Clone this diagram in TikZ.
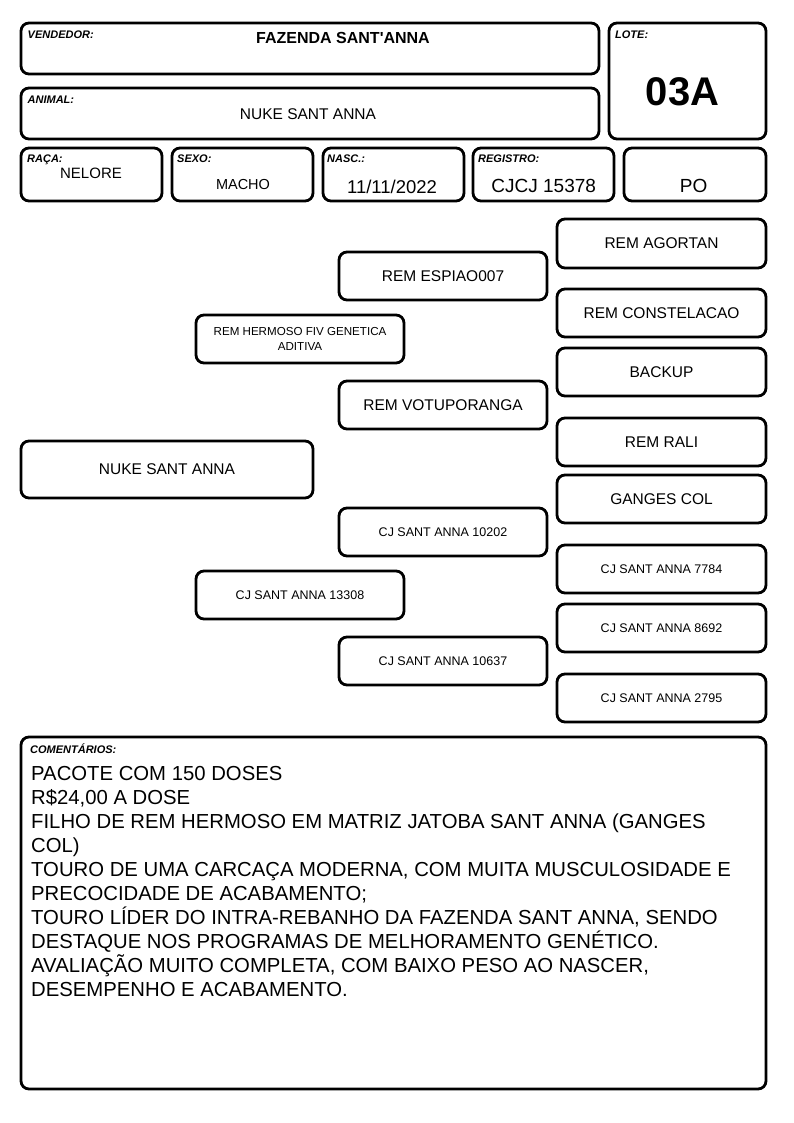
\documentclass[tikz,border=0pt]{standalone}
\usepackage{fontspec}
\setmainfont{Liberation Sans}
\newfontfamily\nomapfont{Liberation Sans}
\begin{document}
\begin{tikzpicture}[x=1pt,y=-1pt,
  box/.style={draw=black, line width=2.8pt, rounded corners=8pt, inner sep=0pt, align=center, fill=white},
  lbl/.style={anchor=base west, inner sep=0pt, font=\fontsize{11}{12}\selectfont\bfseries\itshape},
  val/.style={anchor=base, inner sep=0pt},
  big/.style={font=\fontsize{15.5}{18}\selectfont},
  small/.style={font=\fontsize{12.5}{15}\selectfont}]
\path[use as bounding box, fill=white] (0,0) rectangle (794,1123);
% header boxes
\node[box, minimum width=578pt, minimum height=51pt] (vend) at (310,48.5) {};
\node[box, minimum width=578pt, minimum height=51pt] (anim) at (310,113.5) {};
\node[box, minimum width=157pt, minimum height=116pt] (lote) at (687.5,81) {};
\node[box, minimum width=141pt, minimum height=53pt] (raca) at (91.5,174.5) {};
\node[box, minimum width=141pt, minimum height=53pt] (sexo) at (242.5,174.5) {};
\node[box, minimum width=141pt, minimum height=53pt] (nasc) at (393.5,174.5) {};
\node[box, minimum width=141pt, minimum height=53pt] (reg) at (543.5,174.5) {};
\node[box, minimum width=142pt, minimum height=53pt] (po) at (695,174.5) {};
% header labels
\node[lbl] (lvend) at (27.5,39) {VENDEDOR:};
\node[lbl] (lanim) at (27.5,103.3) {ANIMAL:};
\node[lbl] (llote) at (615,39) {LOTE:};
\node[lbl] (lraca) at (27,162.7) {RAÇA:};
\node[lbl] (lsexo) at (177,163) {SEXO:};
\node[lbl] (lnasc) at (327,163) {NASC.:};
\node[lbl] (lreg) at (478,163) {REGISTRO:};
% header values
\node[val, font=\fontsize{16}{19}\selectfont\nomapfont\bfseries] (tvend) at (343,43.3) {FAZENDA SANT'ANNA};
\node[val, font=\fontsize{15.5}{18}\selectfont] (tanim) at (308,119.3) {NUKE SANT ANNA};
\node[val, font=\fontsize{40}{44}\selectfont\bfseries] (tlote) at (682.5,105.7) {03A};
\node[val, font=\fontsize{15}{18}\selectfont] (traca) at (91,178.3) {NELORE};
\node[val, font=\fontsize{14.5}{17}\selectfont] (tsexo) at (243,189.3) {MACHO};
\node[val, font=\fontsize{18.5}{22}\selectfont] (tnasc) at (392,193.3) {11/11/2022};
\node[val, font=\fontsize{19}{22}\selectfont] (treg) at (543.7,192.3) {CJCJ 15378};
\node[val, font=\fontsize{19}{22}\selectfont] (tpo) at (693.7,192.7) {PO};
% pedigree
\node[box, big, minimum width=292pt, minimum height=57pt] (nuke) at (167,469.5) {NUKE SANT ANNA};
\node[box, font=\fontsize{11.6}{15}\selectfont, minimum width=208pt, minimum height=48pt] (pai) at (300,339) {REM HERMOSO FIV GENETICA\\ADITIVA};
\node[box, small, minimum width=208pt, minimum height=48pt] (mae) at (300,595) {CJ SANT ANNA 13308};
\node[box, big, minimum width=208pt, minimum height=48pt] (avo1) at (443,276) {REM ESPIAO007};
\node[box, big, minimum width=208pt, minimum height=48pt] (avo2) at (443,405) {REM VOTUPORANGA};
\node[box, small, minimum width=208pt, minimum height=48pt] (avo3) at (443,532) {CJ SANT ANNA 10202};
\node[box, small, minimum width=208pt, minimum height=48pt] (avo4) at (443,661) {CJ SANT ANNA 10637};
\node[box, big, minimum width=209pt, minimum height=49pt] (b1) at (661.5,243.5) {REM AGORTAN};
\node[box, big, minimum width=209pt, minimum height=48pt] (b2) at (661.5,313) {REM CONSTELACAO};
\node[box, big, minimum width=209pt, minimum height=48pt] (b3) at (661.5,372) {BACKUP};
\node[box, big, minimum width=209pt, minimum height=48pt] (b4) at (661.5,442) {REM RALI};
\node[box, big, minimum width=209pt, minimum height=48pt] (b5) at (661.5,499) {GANGES COL};
\node[box, small, minimum width=209pt, minimum height=48pt] (b6) at (661.5,569) {CJ SANT ANNA 7784};
\node[box, small, minimum width=209pt, minimum height=48pt] (b7) at (661.5,628) {CJ SANT ANNA 8692};
\node[box, small, minimum width=209pt, minimum height=48pt] (b8) at (661.5,698) {CJ SANT ANNA 2795};
% comments
\node[box, minimum width=745pt, minimum height=352pt] (com) at (393.5,913) {};
\node[lbl] (lcom) at (30,753.3) {COMENTÁRIOS:};
\node[anchor=north west, inner sep=0pt, align=left, font=\fontsize{20.3}{24}\selectfont] (tcom) at (31,766) {PACOTE COM 150 DOSES\\
R\$24,00 A DOSE\\
FILHO DE REM HERMOSO EM MATRIZ JATOBA SANT ANNA (GANGES\\
COL)\\
TOURO DE UMA CARCAÇA MODERNA, COM MUITA MUSCULOSIDADE E\\
PRECOCIDADE DE ACABAMENTO;\\
TOURO LÍDER DO INTRA-REBANHO DA FAZENDA SANT ANNA, SENDO\\
DESTAQUE NOS PROGRAMAS DE MELHORAMENTO GENÉTICO.\\
AVALIAÇÃO MUITO COMPLETA, COM BAIXO PESO AO NASCER,\\
DESEMPENHO E ACABAMENTO.};
\end{tikzpicture}
\end{document}
